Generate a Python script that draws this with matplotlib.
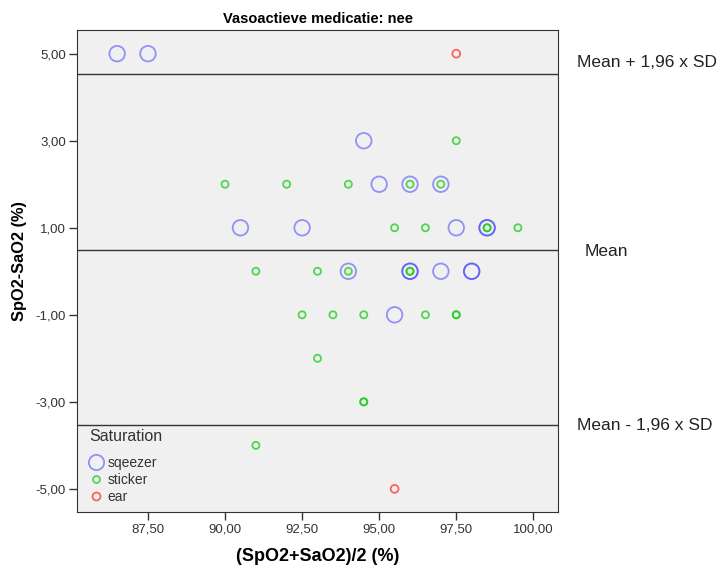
import matplotlib
matplotlib.use("Agg")
import matplotlib.pyplot as plt
import matplotlib.transforms as mtransforms
from matplotlib.lines import Line2D
from matplotlib.ticker import FuncFormatter

plt.rcParams["font.family"] = ["Liberation Sans", "DejaVu Sans"]

# --- data ------------------------------------------------------------------
sq_x = [86.5, 87.5, 94.5, 95.0, 96.0, 97.0, 90.5, 92.5, 97.5, 98.5, 98.5,
        94.0, 96.0, 96.0, 97.0, 98.0, 98.0, 95.5]
sq_y = [5, 5, 3, 2, 2, 2, 1, 1, 1, 1, 1, 0, 0, 0, 0, 0, 0, -1]
st_x = [97.5, 90.0, 92.0, 94.0, 96.0, 97.0, 95.5, 96.5, 98.5, 98.5, 99.5,
        91.0, 93.0, 94.0, 96.0, 96.0, 92.5, 93.5, 94.5, 96.5, 97.5, 97.5,
        93.0, 94.5, 94.5, 91.0]
st_y = [3, 2, 2, 2, 2, 2, 1, 1, 1, 1, 1, 0, 0, 0, 0, 0, -1, -1, -1, -1, -1, -1,
        -2, -3, -3, -4]
ear_x = [97.5, 95.5]
ear_y = [5, -5]

mean_diff = 0.5
upper_loa = 4.54
lower_loa = -3.54

x_ticks = [87.5, 90.0, 92.5, 95.0, 97.5, 100.0]
y_ticks = [5, 3, 1, -1, -3, -5]

BLUE = (0.2, 0.2, 1.0, 0.5)
GREEN = (0.1, 0.8, 0.1, 0.75)
RED = (1.0, 0.2, 0.2, 0.75)

fig = plt.figure(figsize=(7.2, 5.72), dpi=100)
ax = fig.add_axes([0.107, 0.105, 0.668, 0.843])
ax.set_facecolor("#f0f0f0")

ax.scatter(sq_x, sq_y, s=125, facecolors="none", edgecolors=[BLUE], linewidths=1.3, zorder=3)
ax.scatter(st_x, st_y, s=26, facecolors="none", edgecolors=[GREEN], linewidths=1.3, zorder=4)
ax.scatter(ear_x, ear_y, s=32, facecolors="none", edgecolors=[RED], linewidths=1.3, zorder=4)

for yv in (upper_loa, mean_diff, lower_loa):
    ax.axhline(yv, color="#333333", lw=1.0, zorder=2)

ax.set_xlim(85.2, 100.8)
ax.set_ylim(-5.53, 5.55)
ax.set_xticks(x_ticks)
ax.set_yticks(y_ticks)
fmt = FuncFormatter(lambda v, p: f"{v:.2f}".replace(".", ","))
ax.xaxis.set_major_formatter(fmt)
ax.yaxis.set_major_formatter(fmt)
ax.tick_params(labelsize=9.5, colors="#333333", length=6, width=1, pad=2)
for sp in ax.spines.values():
    sp.set_color("#333333")

ax.set_xlabel("(SpO2+SaO2)/2 (%)", fontsize=13, fontweight="bold", labelpad=9)
ax.set_ylabel("SpO2-SaO2 (%)", fontsize=11.8, fontweight="bold")
ax.yaxis.set_label_coords(-0.104, 0.52)
ax.set_title("Vasoactieve medicatie: nee", fontsize=10.5, fontweight="bold", pad=5)

# labels next to the reference lines
trans = mtransforms.blended_transform_factory(ax.transAxes, ax.transData)
ax.text(1.04, 4.79, "Mean + 1,96 x SD", transform=trans, fontsize=12.5,
        va="center", ha="left", color="#222222", clip_on=False)
ax.text(1.056, 0.45, "Mean", transform=trans, fontsize=12.5,
        va="center", ha="left", color="#222222", clip_on=False)
ax.text(1.04, -3.55, "Mean - 1,96 x SD", transform=trans, fontsize=12.5,
        va="center", ha="left", color="#222222", clip_on=False)

# legend: title drawn separately to get the wider gap
ax.text(0.025, -3.8, "Saturation", transform=trans, fontsize=11.5,
        va="center", ha="left", color="#333333")
handles = [
    Line2D([], [], ls="none", marker="o", ms=11, mfc="none", mec=BLUE, mew=1.3, label="sqeezer"),
    Line2D([], [], ls="none", marker="o", ms=5, mfc="none", mec=GREEN, mew=1.3, label="sticker"),
    Line2D([], [], ls="none", marker="o", ms=5.7, mfc="none", mec=RED, mew=1.3, label="ear"),
]
leg = ax.legend(handles=handles, loc="lower left", bbox_to_anchor=(0.0, 0.0),
                frameon=False, fontsize=10, handletextpad=0.0, handlelength=1.6,
                labelspacing=0.2, borderaxespad=0.2)
for t in leg.get_texts():
    t.set_color("#333333")

fig.savefig("out.png", dpi=100, facecolor="white")
